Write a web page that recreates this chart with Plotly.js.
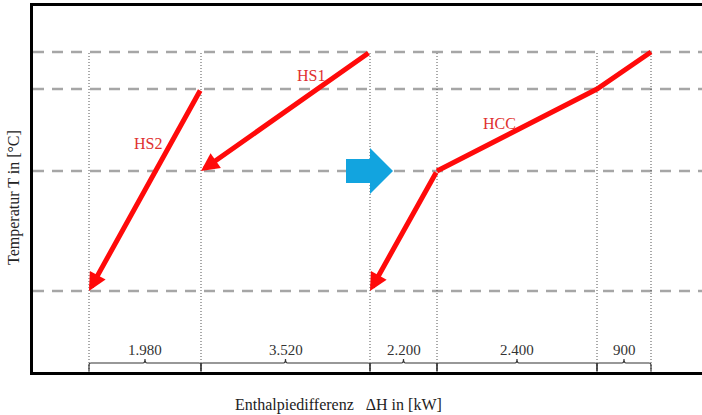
<!DOCTYPE html>
<html>
<head>
<meta charset="utf-8">
<script src="https://cdn.plot.ly/plotly-3.0.1.min.js"></script>
<style>html,body{margin:0;padding:0;background:#fff;}#chart{width:702px;height:415px;}</style>
</head>
<body>
<div id="chart"></div>
<script>
// Schematic enthalpy positions of segment boundaries (chart units)
const hBounds = [56, 168, 337, 404, 564, 618];
// Schematic temperature levels (chart units)
const tLevels = [81, 201, 283, 320];
// Enthalpy difference labels for each interval
const dHLabels = ['1.980', '3.520', '2.200', '2.400', '900'];
// Hot streams and hot composite curve
const hs1H = [337, 168];
const hs1T = [320, 201];
const hs2H = [168, 56];
const hs2T = [283, 81];
const hccH = [618, 564, 404, 337];
const hccT = [320, 283, 201, 81];

const RED = '#ff0a0a';
const LABEL_RED = '#e0302e';
const SERIF = '"Liberation Serif", "Times New Roman", serif';

const traces = [{
  x: hccH.slice(0, 3), y: hccT.slice(0, 3),
  mode: 'lines', line: {color: RED, width: 5},
  hoverinfo: 'skip', showlegend: false
}];

const shapes = [];
// horizontal dashed temperature lines
tLevels.forEach(t => shapes.push({
  type: 'line', xref: 'paper', yref: 'y', x0: 0, x1: 1, y0: t, y1: t,
  line: {color: '#a6a6a6', width: 2.5, dash: '11px,8px'}, layer: 'below'
}));
// vertical dotted interval boundaries
const tTop = Math.max(...tLevels);
hBounds.forEach(h => shapes.push({
  type: 'line', xref: 'x', yref: 'y', x0: h, x1: h, y0: 0, y1: tTop,
  line: {color: '#555', width: 1, dash: '1px,2px'}, layer: 'below'
}));
// brackets under each interval
for (let i = 0; i < hBounds.length - 1; i++) {
  const a = hBounds[i], b = hBounds[i + 1], m = (a + b) / 2;
  shapes.push({
    type: 'path', xref: 'x', yref: 'y',
    path: `M${a},1 L${a},7 Q${a},9 ${a + 2},9 L${m - 2},9 Q${m},9 ${m},13 Q${m},9 ${m + 2},9 L${b - 2},9 Q${b},9 ${b},7 L${b},1`,
    line: {color: '#333', width: 1.2}
  });
}
// blue shift arrow at the pinch
const bx = hBounds[2], by = tLevels[1];
shapes.push({
  type: 'path', xref: 'x', yref: 'y',
  path: `M${bx - 24},${by + 12} L${bx},${by + 12} L${bx},${by + 23} L${bx + 23},${by} L${bx},${by - 23} L${bx},${by - 12} L${bx - 24},${by - 12} Z`,
  fillcolor: '#12a4df', line: {width: 0}
});

const annotations = [];
function arrow(x0, y0, x1, y1) {
  annotations.push({
    x: x1, y: y1, ax: x0, ay: y0, xref: 'x', yref: 'y', axref: 'x', ayref: 'y',
    text: '', showarrow: true, arrowhead: 2, arrowsize: 0.72, arrowwidth: 5,
    arrowcolor: RED, standoff: 0, startstandoff: 0
  });
}
arrow(hs1H[0], hs1T[0], hs1H[1], hs1T[1]);
arrow(hs2H[0], hs2T[0], hs2H[1], hs2T[1]);
arrow(hccH[2], hccT[2], hccH[3], hccT[3]);

function label(txt, x, y) {
  annotations.push({x: x, y: y, xref: 'x', yref: 'y', text: txt, showarrow: false,
    font: {family: SERIF, size: 16, color: LABEL_RED}});
}
label('HS1', 278, 297);
label('HS2', 115, 229);
label('HCC', 466, 249);

for (let i = 0; i < dHLabels.length; i++) {
  annotations.push({
    x: (hBounds[i] + hBounds[i + 1]) / 2, y: 22, xref: 'x', yref: 'y',
    text: dHLabels[i], showarrow: false,
    font: {family: SERIF, size: 15, color: '#333'}
  });
}
// axis titles
annotations.push({
  x: 305, y: 0, xref: 'x', yref: 'paper', yshift: -33, yanchor: 'middle',
  text: 'Enthalpiedifferenz\u00a0\u00a0\u00a0ΔH in [kW]', showarrow: false,
  font: {family: SERIF, size: 16, color: '#222'}
});
annotations.push({
  x: 0, y: 174, xref: 'paper', yref: 'y', xshift: -19, xanchor: 'center',
  text: 'Temperatur T in [°C]', textangle: -90, showarrow: false,
  font: {family: SERIF, size: 16, color: '#222'}
});

const layout = {
  width: 702, height: 415,
  margin: {l: 33, r: 0, t: 6, b: 43},
  paper_bgcolor: '#fff', plot_bgcolor: '#fff',
  xaxis: {range: [0, 669], showgrid: false, zeroline: false, showticklabels: false, ticks: '',
    showline: true, mirror: true, linecolor: '#000', linewidth: 3, fixedrange: true},
  yaxis: {range: [0, 366], showgrid: false, zeroline: false, showticklabels: false, ticks: '',
    showline: true, linecolor: '#000', linewidth: 3, fixedrange: true},
  shapes: shapes,
  annotations: annotations,
  showlegend: false
};

Plotly.newPlot('chart', traces, layout, {displayModeBar: false, staticPlot: true});
</script>
</body>
</html>
